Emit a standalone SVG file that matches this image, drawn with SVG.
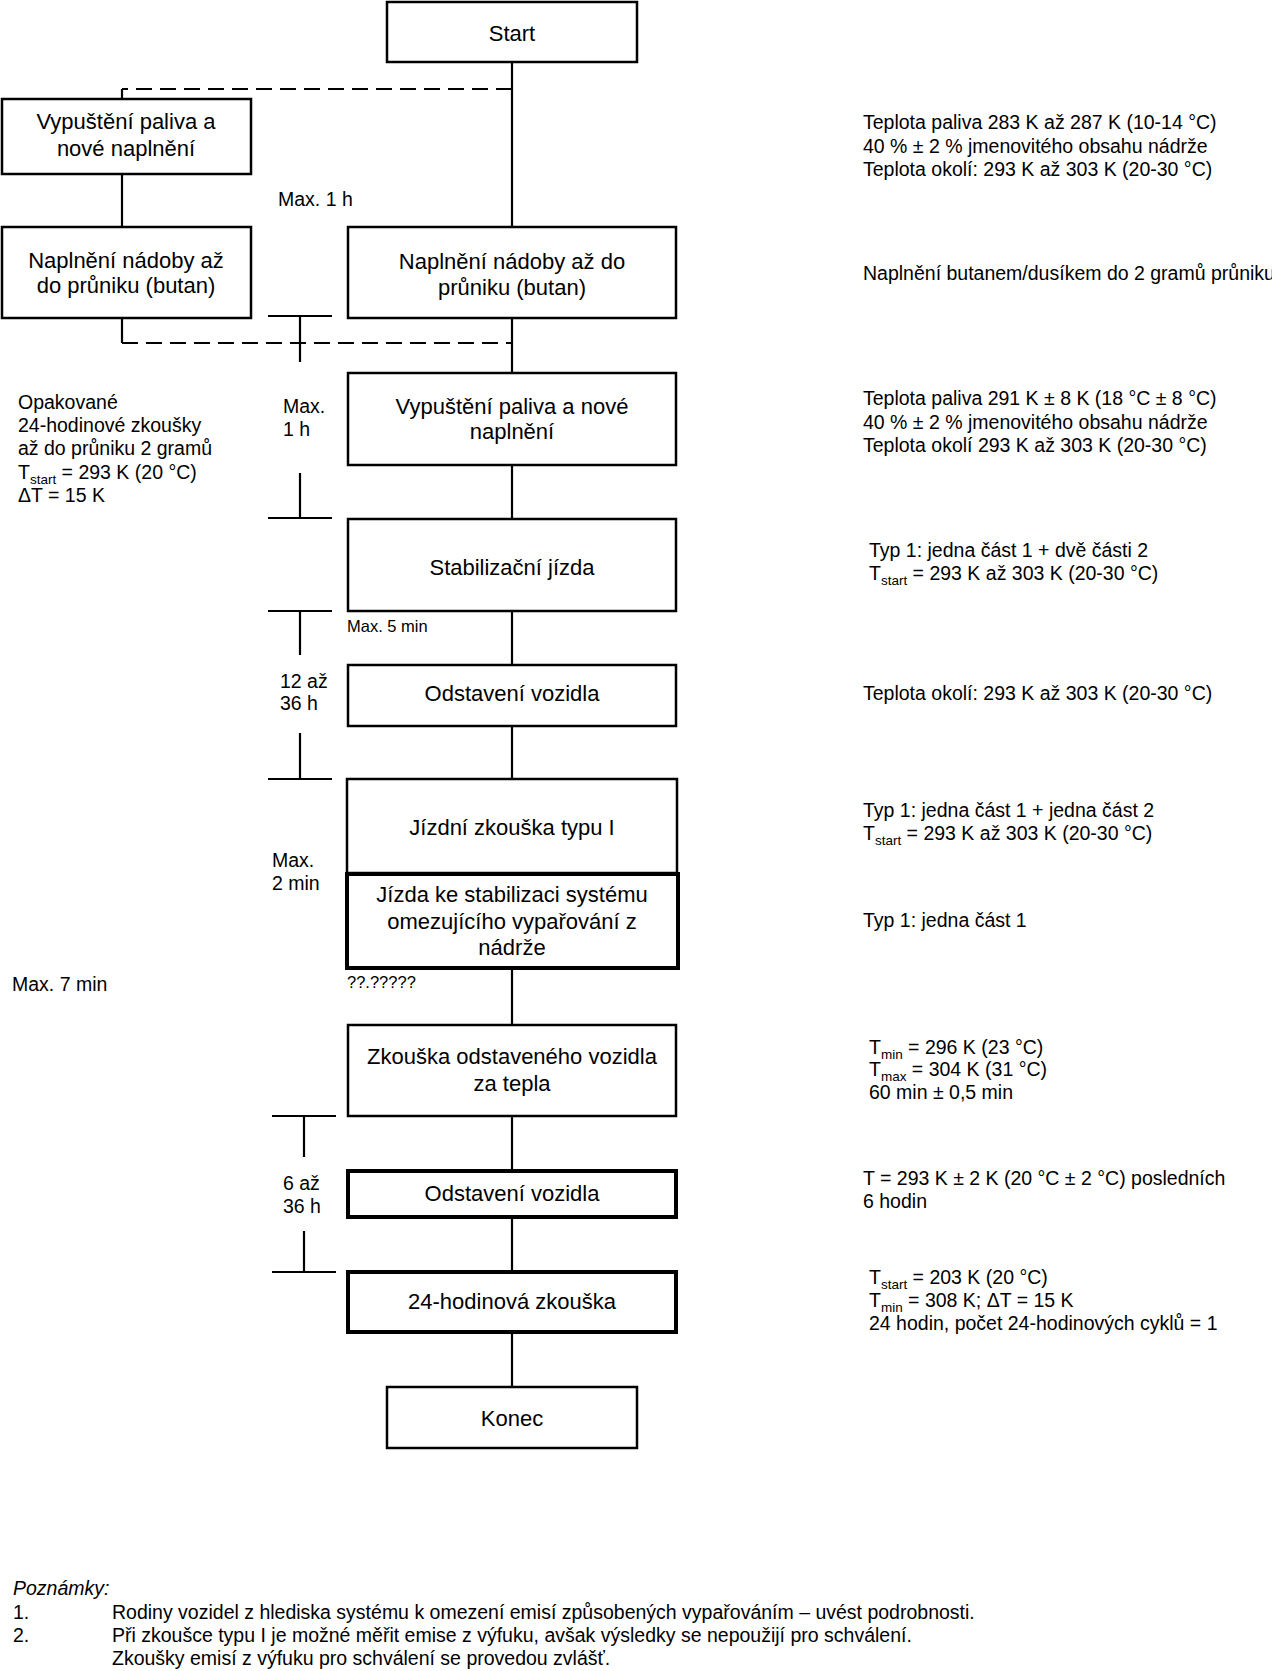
<svg xmlns="http://www.w3.org/2000/svg" width="1272" height="1671" viewBox="0 0 1272 1671">
<style>
text{font-family:"Liberation Sans",Arial,sans-serif;fill:#000}
.box{fill:#fff;stroke:#000;stroke-width:2.5}
.thick{fill:#fff;stroke:#000;stroke-width:4}
.bt{font-size:22px;text-anchor:middle}
.lbl{font-size:19.5px}
.sm{font-size:16.5px}
.sub{font-size:13.5px}
.ln{stroke:#000;stroke-width:2.2;fill:none}
.dash{stroke:#000;stroke-width:2.2;fill:none;stroke-dasharray:16 8}
</style>
<rect width="1272" height="1671" fill="#fff"/>
<g id="connectors">
<line class="ln" x1="512" y1="62" x2="512" y2="227"/>
<path class="dash" d="M512,89 H122"/>
<line class="ln" x1="122" y1="89" x2="122" y2="99"/>
<line class="ln" x1="122" y1="174" x2="122" y2="227"/>
<line class="ln" x1="122" y1="318" x2="122" y2="343"/>
<path class="dash" d="M122,343 H512"/>
<line class="ln" x1="512" y1="318" x2="512" y2="373"/>
<line class="ln" x1="512" y1="465" x2="512" y2="519"/>
<line class="ln" x1="512" y1="611" x2="512" y2="665"/>
<line class="ln" x1="512" y1="726" x2="512" y2="779"/>
<line class="ln" x1="512" y1="968" x2="512" y2="1025"/>
<line class="ln" x1="512" y1="1116" x2="512" y2="1171"/>
<line class="ln" x1="512" y1="1217" x2="512" y2="1272"/>
<line class="ln" x1="512" y1="1332" x2="512" y2="1387"/>
<g id="markers">
<path class="ln" d="M268,316 H332 M300,316 V362"/>
<path class="ln" d="M300,473 V518 M268,518 H332"/>
<path class="ln" d="M268,611 H332 M300,611 V655"/>
<path class="ln" d="M300,733 V779 M268,779 H332"/>
<path class="ln" d="M272,1116 H336 M304,1116 V1157"/>
<path class="ln" d="M304,1231 V1272 M272,1272 H336"/>
</g>
</g>
<g id="start"><rect class="box" x="387" y="2" width="250" height="60"/><text class="bt" x="512" y="41">Start</text></g>
<g id="left1"><rect class="box" x="2" y="99" width="249" height="75"/><text class="bt" x="126" y="129">Vypuštění paliva a</text><text class="bt" x="126" y="156">nové naplnění</text></g>
<g id="left2"><rect class="box" x="2" y="227" width="249" height="91"/><text class="bt" x="126" y="267.5">Naplnění nádoby až</text><text class="bt" x="126" y="293">do průniku (butan)</text></g>
<g id="fill"><rect class="box" x="348" y="227" width="328" height="91"/><text class="bt" x="512" y="268.5">Naplnění nádoby až do</text><text class="bt" x="512" y="295">průniku (butan)</text></g>
<g id="drain"><rect class="box" x="348" y="373" width="328" height="92"/><text class="bt" x="512" y="413.5">Vypuštění paliva a nové</text><text class="bt" x="512" y="439">naplnění</text></g>
<g id="stab"><rect class="box" x="348" y="519" width="328" height="92"/><text class="bt" x="512" y="574.5">Stabilizační jízda</text></g>
<g id="park1"><rect class="box" x="348" y="665" width="328" height="61"/><text class="bt" x="512" y="701">Odstavení vozidla</text></g>
<g id="drive"><rect class="box" x="347" y="779" width="330" height="94"/><text class="bt" x="512" y="834.5">Jízdní zkouška typu I</text></g>
<g id="drive2"><rect class="thick" x="347" y="874" width="331" height="94"/><text class="bt" x="512" y="901.5">Jízda ke stabilizaci systému</text><text class="bt" x="512" y="928.5">omezujícího vypařování z</text><text class="bt" x="512" y="954.5">nádrže</text></g>
<g id="hotsoak"><rect class="box" x="348" y="1025" width="328" height="91"/><text class="bt" x="512" y="1063.5">Zkouška odstaveného vozidla</text><text class="bt" x="512" y="1090.5">za tepla</text></g>
<g id="park2"><rect class="thick" x="348" y="1171" width="328" height="46"/><text class="bt" x="512" y="1201">Odstavení vozidla</text></g>
<g id="diurnal"><rect class="thick" x="348" y="1272" width="328" height="60"/><text class="bt" x="512" y="1309">24-hodinová zkouška</text></g>
<g id="end"><rect class="box" x="387" y="1387" width="250" height="61"/><text class="bt" x="512" y="1426">Konec</text></g>
<g id="labels">
<text class="lbl" x="278" y="205.5">Max. 1 h</text>
<text class="lbl" x="283" y="412.5">Max.</text>
<text class="lbl" x="283" y="435.5">1 h</text>
<text class="sm" x="347" y="632">Max. 5 min</text>
<text class="lbl" x="280" y="687.5">12 až</text>
<text class="lbl" x="280" y="709.5">36 h</text>
<text class="lbl" x="272" y="866.5">Max.</text>
<text class="lbl" x="272" y="889.5">2 min</text>
<text class="sm" x="347" y="988">??.?????</text>
<text class="lbl" x="12" y="991">Max. 7 min</text>
<text class="lbl" x="283" y="1189.5">6 až</text>
<text class="lbl" x="283" y="1212.5">36 h</text>
<text class="lbl" x="18" y="408.5">Opakované</text>
<text class="lbl" x="18" y="431.5">24-hodinové zkoušky</text>
<text class="lbl" x="18" y="454.5">až do průniku 2 gramů</text>
<text class="lbl" x="18" y="478.5">T<tspan class="sub" dy="5">start</tspan><tspan dy="-5"> = 293 K (20 °C)</tspan></text>
<text class="lbl" x="18" y="501.5">ΔT = 15 K</text>
</g>
<g id="notes">
<text class="lbl" x="863" y="129">Teplota paliva 283 K až 287 K (10-14 °C)</text>
<text class="lbl" x="863" y="152.5">40 % ± 2 % jmenovitého obsahu nádrže</text>
<text class="lbl" x="863" y="175.5">Teplota okolí: 293 K až 303 K (20-30 °C)</text>
<text class="lbl" x="863" y="279.5">Naplnění butanem/dusíkem do 2 gramů průniku</text>
<text class="lbl" x="863" y="404.5">Teplota paliva 291 K ± 8 K (18 °C ± 8 °C)</text>
<text class="lbl" x="863" y="428.5">40 % ± 2 % jmenovitého obsahu nádrže</text>
<text class="lbl" x="863" y="451.5">Teplota okolí 293 K až 303 K (20-30 °C)</text>
<text class="lbl" x="869" y="557">Typ 1: jedna část 1 + dvě části 2</text>
<text class="lbl" x="869" y="580">T<tspan class="sub" dy="5">start</tspan><tspan dy="-5"> = 293 K až 303 K (20-30 °C)</tspan></text>
<text class="lbl" x="863" y="699.5">Teplota okolí: 293 K až 303 K (20-30 °C)</text>
<text class="lbl" x="863" y="816.5">Typ 1: jedna část 1 + jedna část 2</text>
<text class="lbl" x="863" y="839.5">T<tspan class="sub" dy="5">start</tspan><tspan dy="-5"> = 293 K až 303 K (20-30 °C)</tspan></text>
<text class="lbl" x="863" y="927">Typ 1: jedna část 1</text>
<text class="lbl" x="869" y="1053.5">T<tspan class="sub" dy="5">min</tspan><tspan dy="-5"> = 296 K (23 °C)</tspan></text>
<text class="lbl" x="869" y="1075.5">T<tspan class="sub" dy="5">max</tspan><tspan dy="-5"> = 304 K (31 °C)</tspan></text>
<text class="lbl" x="869" y="1098.5">60 min ± 0,5 min</text>
<text class="lbl" x="863" y="1184.5">T = 293 K ± 2 K (20 °C ± 2 °C) posledních</text>
<text class="lbl" x="863" y="1207.5">6 hodin</text>
<text class="lbl" x="869" y="1283.5">T<tspan class="sub" dy="5">start</tspan><tspan dy="-5"> = 203 K (20 °C)</tspan></text>
<text class="lbl" x="869" y="1306.5">T<tspan class="sub" dy="5">min</tspan><tspan dy="-5"> = 308 K; ΔT = 15 K</tspan></text>
<text class="lbl" x="869" y="1329.5">24 hodin, počet 24-hodinových cyklů = 1</text>
</g>
<g id="footnotes">
<text class="lbl" x="13" y="1594.5" font-style="italic">Poznámky:</text>
<text class="lbl" x="13" y="1618.5">1.</text>
<text class="lbl" x="112" y="1618.5">Rodiny vozidel z hlediska systému k omezení emisí způsobených vypařováním – uvést podrobnosti.</text>
<text class="lbl" x="13" y="1641.5">2.</text>
<text class="lbl" x="112" y="1641.5">Při zkoušce typu I je možné měřit emise z výfuku, avšak výsledky se nepoužijí pro schválení.</text>
<text class="lbl" x="112" y="1665">Zkoušky emisí z výfuku pro schválení se provedou zvlášť.</text>
</g>
</svg>
